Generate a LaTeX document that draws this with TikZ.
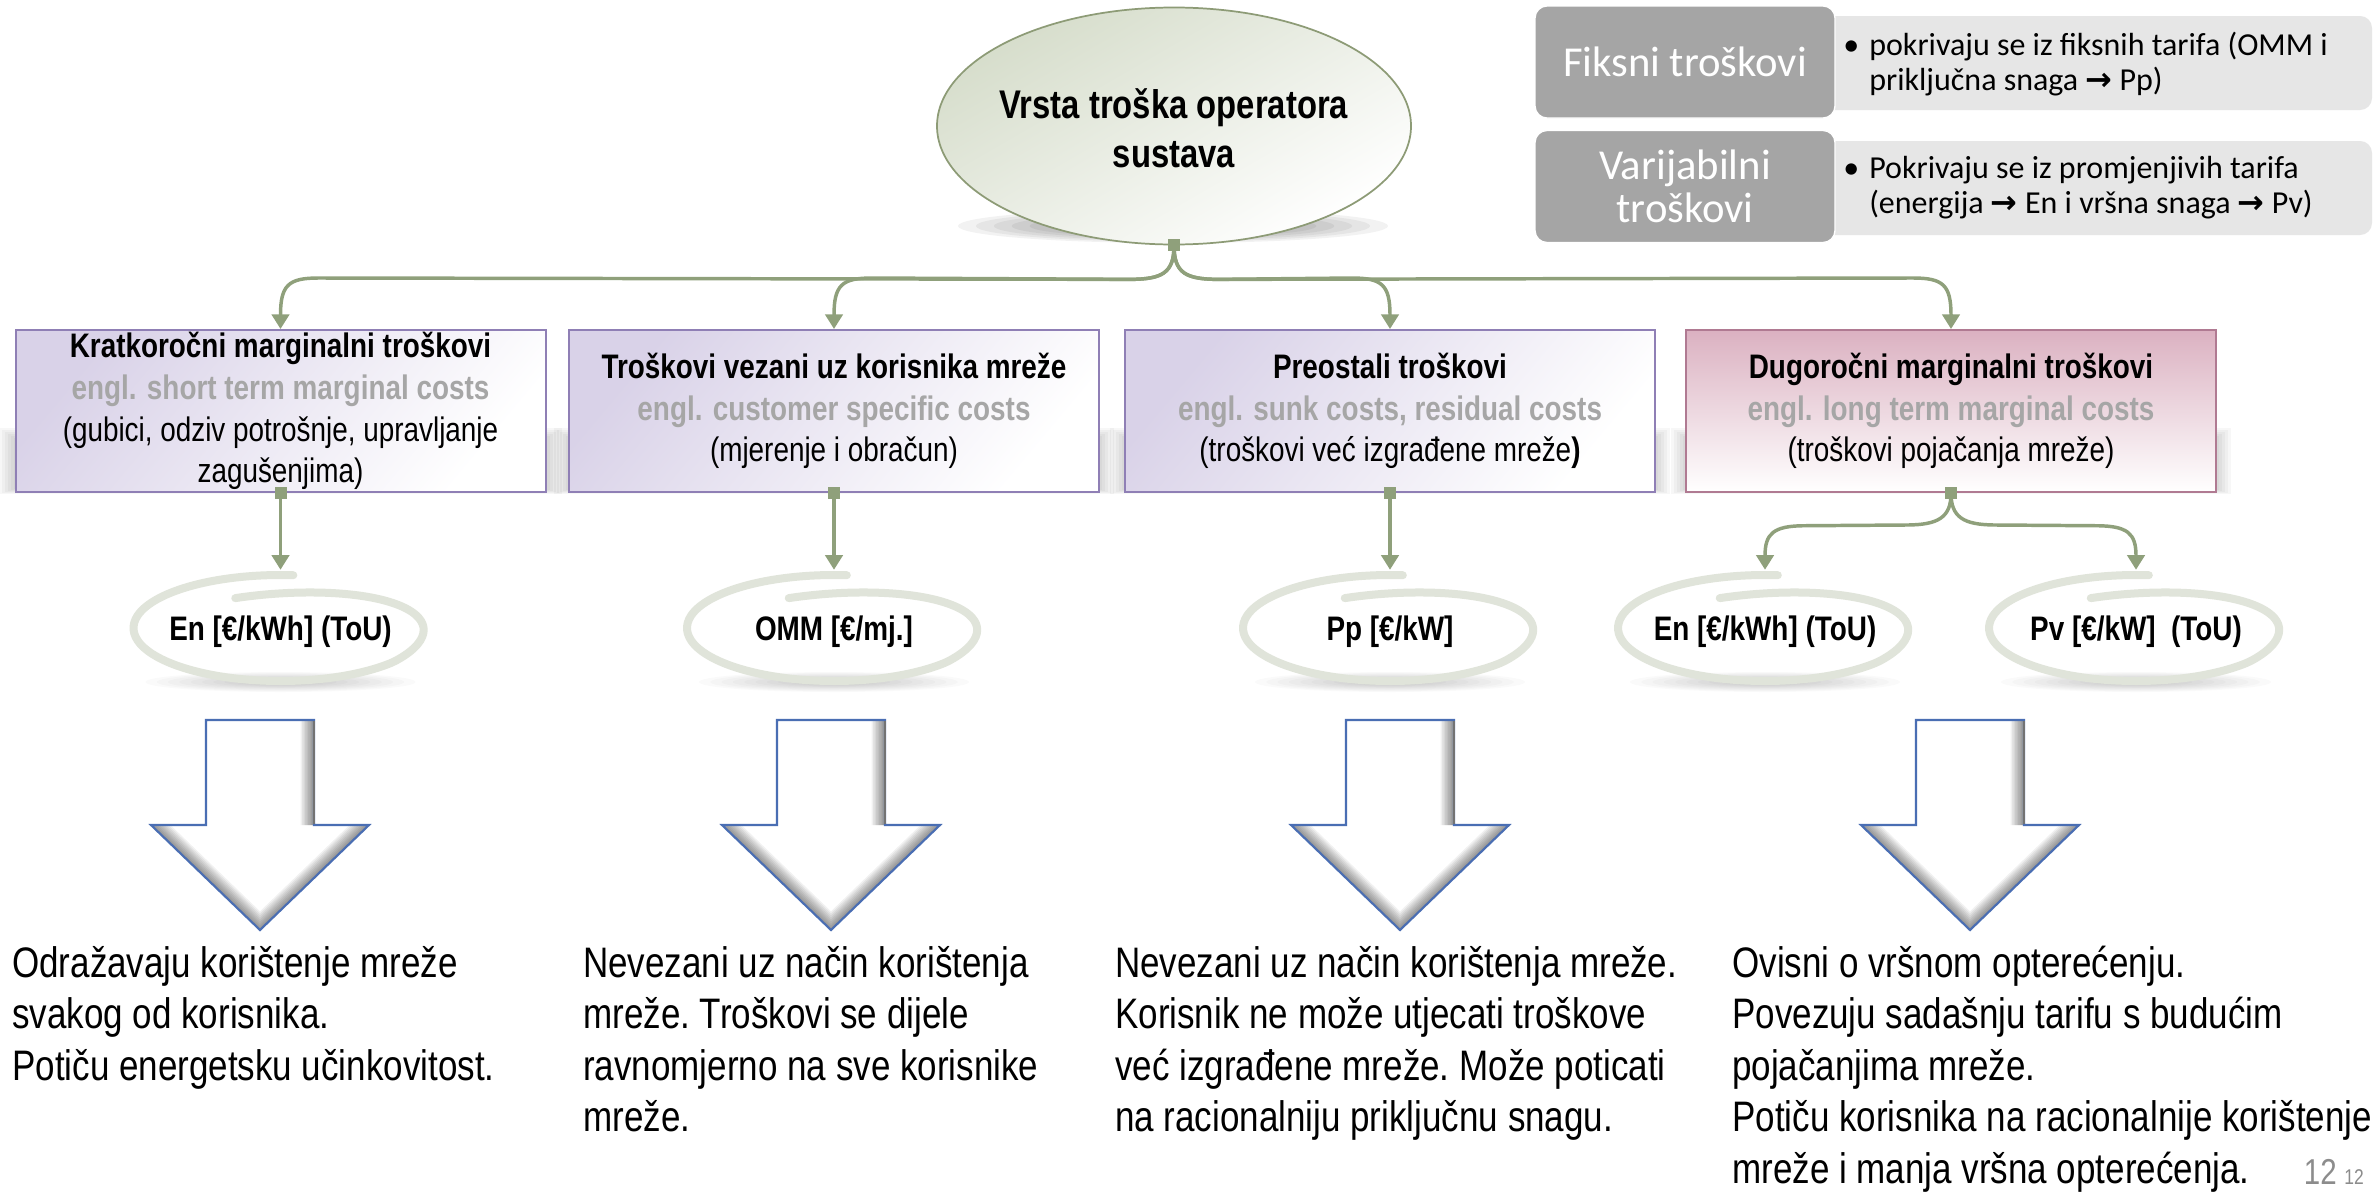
\documentclass[tikz,border=0pt]{standalone}
\usepackage{fontspec}
\setmainfont{Liberation Sans}[FakeStretch=0.82]
\newfontfamily\calib{Carlito}
\newfontfamily\djv{DejaVu Sans}
\usetikzlibrary{arrows.meta,calc,shapes.geometric}
\definecolor{sage}{HTML}{8FA07B}
\definecolor{lav}{HTML}{D9D2E8}
\definecolor{lavb}{HTML}{8F7FB5}
\definecolor{pinkf}{HTML}{DBB1C1}
\definecolor{pinkb}{HTML}{B07A92}
\definecolor{engg}{HTML}{A6A6A6}
\definecolor{ellf}{HTML}{D6DDCB}
\definecolor{ellb}{HTML}{8D9B76}
\definecolor{scribc}{HTML}{E0E4DA}
\definecolor{arrb}{HTML}{4A6EB3}
\definecolor{darkg}{HTML}{A5A5A5}
\definecolor{lightg}{HTML}{E6E6E6}
\definecolor{pgnum}{HTML}{8C8C8C}
\newcommand\natsp{\spaceskip=0pt\xspaceskip=0pt\frenchspacing}
\tikzset{
  conn/.style={draw=sage, line width=2.6pt, -{Triangle[length=11pt,width=13pt]}},
  sq/.style={fill=sage, minimum size=9pt, inner sep=0pt, outer sep=0pt},
  rootell/.style={ellipse, draw=ellb, line width=1.3pt, minimum width=355.5pt, minimum height=177.75pt, inner sep=0pt, top color=ellf, bottom color=white, shading angle=30},
  roottxt/.style={align=center, inner sep=0pt, font=\fontsize{30}{36.4}\selectfont\bfseries},
  costbox/.style={rectangle, draw=lavb, line width=1.5pt, minimum width=397.5pt, minimum height=121.5pt, align=center, inner sep=0pt, font=\fontsize{25.5}{31.3}\selectfont, top color=lav, bottom color=white, shading angle=50},
  pinkbox/.style={draw=pinkb, top color=pinkf, bottom color=white},
  lbl/.style={minimum height=93pt, inner sep=0pt, font=\fontsize{25.5}{30}\selectfont\bfseries},
  scribline/.style={draw=scribc, line width=6pt, line cap=round},
  btxt/.style={anchor=base west, text width=600pt, align=left, inner sep=0pt, font=\fontsize{32}{38.7}\selectfont},
  darkbox/.style={rectangle, rounded corners=9pt, fill=darkg, draw=white, line width=1pt, minimum width=225pt, minimum height=84pt, text=white, align=center, inner sep=0pt, font=\calib\fontsize{32}{32}\selectfont},
  lightbox/.style={rectangle, rounded corners=9pt, fill=lightg, minimum width=414pt, minimum height=70.5pt, inner sep=0pt},
  ltxt/.style={anchor=base west, inner sep=0pt, font=\calib\fontsize{24}{26.3}\selectfont},
}
\newcommand\rarr{{\djv\bfseries →}}
\newcommand\bshadow[2]{\foreach \i in {0,...,7}{\fill[black,opacity=0.03] ({#1-16+\i*3},{428+\i*2}) rectangle ({#2+16-\i*3},{494-\i});}}
\newcommand\eshadow[5]{\foreach \i in {0,...,9}{\fill[black,opacity=#5] (#1,#2) ellipse ({(#3)*(1-\i/12)*0.75pt} and {(#4)*(1-\i/12)*0.75pt});}}
\newcommand\scribble[2]{\draw[scribline] plot[domain=0:385,samples=100,smooth,variable=\t] ({#1+147*(0.9+0.1*min(1,\t/150))*cos(110-\t)},{#2-53*(0.6+0.4*min(1,\t/150))*sin(110-\t)});}
\newcommand\blockarrow[1]{%
  \begin{scope}
    \clip ({#1-54},720) -- ({#1+54},720) -- ({#1+54},825) -- ({#1+109},825) -- (#1,930) -- ({#1-109},825) -- ({#1-54},825) -- cycle;
    \fill[white] ({#1-115},715) rectangle ({#1+115},935);
    \foreach \w in {3,6,...,27}{\draw[black,opacity=0.055,line width=\w*0.75pt] ({#1+54},715) -- ({#1+54},825) ({#1+109},825) -- (#1,930) -- ({#1-109},825);}
  \end{scope}
  \draw[arrb,line width=1.6pt,line join=miter] ({#1-54},720) -- ({#1+54},720) -- ({#1+54},825) -- ({#1+109},825) -- (#1,930) -- ({#1-109},825) -- ({#1-54},825) -- cycle;
  \draw[black!55,line width=1.6pt] ({#1+54},721) -- ({#1+54},824);
}
\begin{document}
\begin{tikzpicture}[x=0.75pt,y=-0.75pt]
\useasboundingbox (0,0) rectangle (2379,1192);
\fill[white] (0,0) rectangle (2379,1192);
% shadows
\eshadow{1173}{226}{215}{17}{0.05}
\bshadow{15}{546}
\bshadow{570}{1098}
\bshadow{1126}{1654}
\bshadow{1687}{2215}
\foreach \cx in {280.5,834,1390,1765,2136}{\eshadow{\cx}{682}{135}{10}{0.018}}
% root
\node[rootell] (root) at (1174,126) {};
\node[roottxt] (roottxt) at (1174,128) {Vrsta troška operatora\\sustava};
% boxes
\node[costbox] (b1) at (280.5,411) {\textbf{Kratkoročni marginalni troškovi}\\\textcolor{engg}{\textbf{engl. short term marginal costs}}\\(gubici, odziv potrošnje, upravljanje\\zagušenjima)};
\node[costbox] (b2) at (834,411) {\textbf{Troškovi vezani uz korisnika mreže}\\\textcolor{engg}{\textbf{engl. customer specific costs}}\\(mjerenje i obračun)};
\node[costbox] (b3) at (1390,411) {\textbf{Preostali troškovi}\\\textcolor{engg}{\textbf{engl. sunk costs, residual costs}}\\(troškovi već izgrađene mreže\textbf{)}};
\node[costbox,pinkbox] (b4) at (1951,411) {\textbf{Dugoročni marginalni troškovi}\\\textcolor{engg}{\textbf{engl. long term marginal costs}}\\(troškovi pojačanja mreže)};
% tariff labels
\scribble{280.5}{628}
\scribble{834}{628}
\scribble{1390}{628}
\scribble{1765}{628}
\scribble{2136}{628}
\node[lbl] (s1) at (280.5,632) {En [€/kWh] (ToU)};
\node[lbl] (s2) at (834,632) {OMM [€/mj.]};
\node[lbl] (s3) at (1390,632) {Pp [€/kW]};
\node[lbl] (s4) at (1765,632) {En [€/kWh] (ToU)};
\node[lbl] (s5) at (2136,632) {Pv [€/kW]\ \ (ToU)};
% connectors root -> boxes
\draw[conn] (root.south) .. controls ($(root.south)+(0,28)$) and ($(root.south)+(-12,34)$) .. ($(root.south)+(-45,34)$) -- ($(b1.north)+(38,-51)$) .. controls ($(b1.north)+(8,-51)$) and ($(b1.north)+(0,-44)$) .. (b1.north);
\draw[conn] (root.south) .. controls ($(root.south)+(0,28)$) and ($(root.south)+(-12,34)$) .. ($(root.south)+(-45,34)$) -- ($(b2.north)+(38,-51)$) .. controls ($(b2.north)+(8,-51)$) and ($(b2.north)+(0,-44)$) .. (b2.north);
\draw[conn] (root.south) .. controls ($(root.south)+(0,28)$) and ($(root.south)+(12,34)$) .. ($(root.south)+(45,34)$) -- ($(b3.north)+(-38,-51)$) .. controls ($(b3.north)+(-8,-51)$) and ($(b3.north)+(0,-44)$) .. (b3.north);
\draw[conn] (root.south) .. controls ($(root.south)+(0,28)$) and ($(root.south)+(12,34)$) .. ($(root.south)+(45,34)$) -- ($(b4.north)+(-38,-51)$) .. controls ($(b4.north)+(-8,-51)$) and ($(b4.north)+(0,-44)$) .. (b4.north);
% connectors boxes -> tariffs
\draw[conn] (b1.south) -- (s1.north);
\draw[conn] (b2.south) -- (s2.north);
\draw[conn] (b3.south) -- (s3.north);
\draw[conn] (b4.south) .. controls ($(b4.south)+(0,24)$) and ($(b4.south)+(-12,32)$) .. ($(b4.south)+(-45,32)$) -- ($(s4.north)+(40,-44)$) .. controls ($(s4.north)+(8,-44)$) and ($(s4.north)+(0,-36)$) .. (s4.north);
\draw[conn] (b4.south) .. controls ($(b4.south)+(0,24)$) and ($(b4.south)+(12,32)$) .. ($(b4.south)+(45,32)$) -- ($(s5.north)+(-40,-44)$) .. controls ($(s5.north)+(-8,-44)$) and ($(s5.north)+(0,-36)$) .. (s5.north);
\node[sq] (q0) at (root.south) {};
\node[sq] (q1) at (b1.south) {};
\node[sq] (q2) at (b2.south) {};
\node[sq] (q3) at (b3.south) {};
\node[sq] (q4) at (b4.south) {};
% block arrows
\blockarrow{260}
\blockarrow{831}
\blockarrow{1400}
\blockarrow{1970}
% bottom texts
\node[btxt] (t1) at (12,977) {\natsp Odražavaju korištenje mreže\\svakog od korisnika.\\Potiču energetsku učinkovitost.};
\node[btxt] (t2) at (583,977) {\natsp Nevezani uz način korištenja\\mreže. Troškovi se dijele\\ravnomjerno na sve korisnike\\mreže.};
\node[btxt] (t3) at (1115,977) {\natsp Nevezani uz način korištenja mreže.\\Korisnik ne može utjecati troškove\\već izgrađene mreže. Može poticati\\na racionalniju priključnu snagu.};
\node[btxt] (t4) at (1732,977) {\natsp Ovisni o vršnom opterećenju.\\Povezuju sadašnju tarifu s budućim\\pojačanjima mreže.\\Potiču korisnika na racionalnije korištenje\\mreže i manja vršna opterećenja.};
% page number
\node[anchor=base east, inner sep=0pt, text=pgnum, font=\fontsize{27}{27}\selectfont] (pg1) at (2337,1184) {12};
\node[anchor=base west, inner sep=0pt, text=pgnum, font=\fontsize{16}{16}\selectfont] (pg2) at (2344,1184) {12};
% legend
\node[lightbox] (l1) at (2096,63) {};
\node[lightbox] (l2) at (2096,188) {};
\node[darkbox] (d1) at (1685,62) {Fiksni troškovi};
\node[darkbox] (d2) at (1685,186.5) {Varijabilni\\troškovi};
\node[ltxt] (l1b) at (1843,55) {•};
\node[ltxt, text width=380pt, align=left] (l1t) at (1869,55) {\natsp pokrivaju se iz fiksnih tarifa (OMM i\\priključna snaga \rarr{} Pp)};
\node[ltxt] (l2b) at (1843,178) {•};
\node[ltxt, text width=380pt, align=left] (l2t) at (1869,178) {\natsp Pokrivaju se iz promjenjivih tarifa\\(energija \rarr{} En i vršna snaga \rarr{} Pv)};
\end{tikzpicture}
\end{document}
